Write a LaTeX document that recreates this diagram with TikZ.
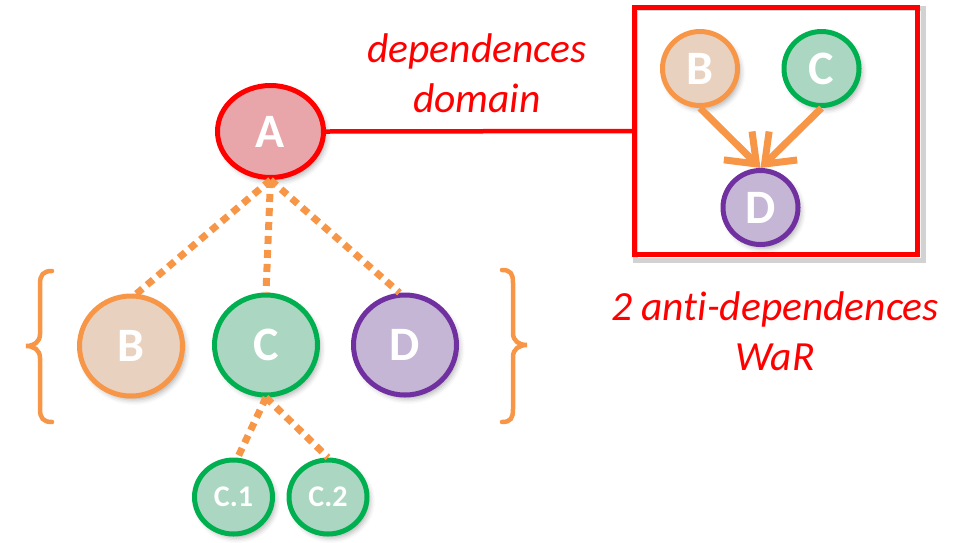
\documentclass[tikz,border=0pt]{standalone}
\usepackage{fontspec}
\setmainfont{Carlito}[Ligatures={NoCommon}]
\usetikzlibrary{shapes.geometric,arrows.meta,shadows.blur}
\definecolor{cred}{HTML}{FF0000}
\definecolor{corange}{HTML}{F79646}
\definecolor{cgreen}{HTML}{00B050}
\definecolor{cpurple}{HTML}{7030A0}
\definecolor{fA}{HTML}{E8A6AA}
\definecolor{fB}{HTML}{E9D1C0}
\definecolor{fC}{HTML}{ABD6C1}
\definecolor{fD}{HTML}{C5B6D6}
\tikzset{
  vert/.style={ellipse, line width=5pt, inner sep=0pt, text=white,
    font=\fontsize{48}{48}\selectfont\bfseries,
    blur shadow={shadow xshift=3pt, shadow yshift=-4pt, shadow blur radius=5pt, shadow opacity=30}},
  big/.style={vert, minimum width=103pt, minimum height=100pt},
  small/.style={vert, minimum width=75pt, minimum height=74pt},
  tiny/.style={vert, minimum width=78pt, minimum height=74pt, font=\fontsize{30}{30}\selectfont\bfseries},
  vA/.style={draw=cred, fill=fA},
  vB/.style={draw=corange, fill=fB},
  vC/.style={draw=cgreen, fill=fC},
  vD/.style={draw=cpurple, fill=fD},
  dots/.style={draw=corange, line width=7pt, dash pattern=on 8pt off 6pt},
  redtext/.style={text=cred, font=\fontsize{41.5}{50}\selectfont\itshape, anchor=base, inner sep=0pt},
  bracestyle/.style={draw=corange, line width=4.5pt, line cap=round},
  dep/.style={draw=corange, line width=7pt, -{Straight Barb[length=26pt,width=40pt]}},
}
\begin{document}
\begin{tikzpicture}[x=1pt,y=-1pt]
\useasboundingbox (0,0) rectangle (961,542);
% frame
\draw[black!35, line width=5pt, opacity=0.5] (635,8) rectangle (923,260);
\node[draw=cred, line width=5pt, minimum width=283pt, minimum height=247pt, inner sep=0pt] (box) at (776,131) {};
% nodes
\node[big, vA, minimum width=106pt, minimum height=92pt] (A) at (270.5,131.5) {A};
\node[big, vB] (B) at (131,346) {B};
\node[big, vC] (C) at (266,345) {C};
\node[big, vD] (D) at (405,345) {D};
\node[tiny, vC] (C1) at (233.5,497) {C.1};
\node[tiny, vC] (C2) at (328,497) {C.2};
\node[small, vB] (iB) at (700,68.5) {B};
\node[small, vC] (iC) at (821.5,68.5) {C};
\node[small, vD] (iD) at (760.5,207.5) {D};
% connectors
\draw[dots] (A.south) -- (B.84);
\draw[dots] (A.south) -- (C.north);
\draw[dots] (A.south) -- (D.96);
\draw[dots] (C.south) -- (C1.84);
\draw[dots] (C.south) -- (C2.north);
\draw[cred, line width=4.5pt] (A.east) -- (box.west);
\draw[dep] (iB.south) -- (iD.north);
\draw[dep] (iC.south) -- (iD.north);
% braces
\draw[bracestyle] (52,271) .. controls (43,271) and (40,275) .. (40,284) -- (40,334) .. controls (40,342) and (34,346) .. (26,346) .. controls (34,346) and (40,350) .. (40,358) -- (40,409) .. controls (40,418) and (43,422) .. (52,422);
\draw[bracestyle] (502,270) .. controls (511,270) and (513,274) .. (513,283) -- (513,333) .. controls (513,341) and (519,345) .. (527,345) .. controls (519,345) and (513,349) .. (513,357) -- (513,409) .. controls (513,418) and (511,422) .. (502,422);
% texts
\node[redtext] (t1) at (477,62) {dependences};
\node[redtext] (t2) at (477,112) {domain};
\node[redtext] (t3) at (775,320) {2 anti-dependences};
\node[redtext] (t4) at (775,370) {WaR};
\end{tikzpicture}
\end{document}
